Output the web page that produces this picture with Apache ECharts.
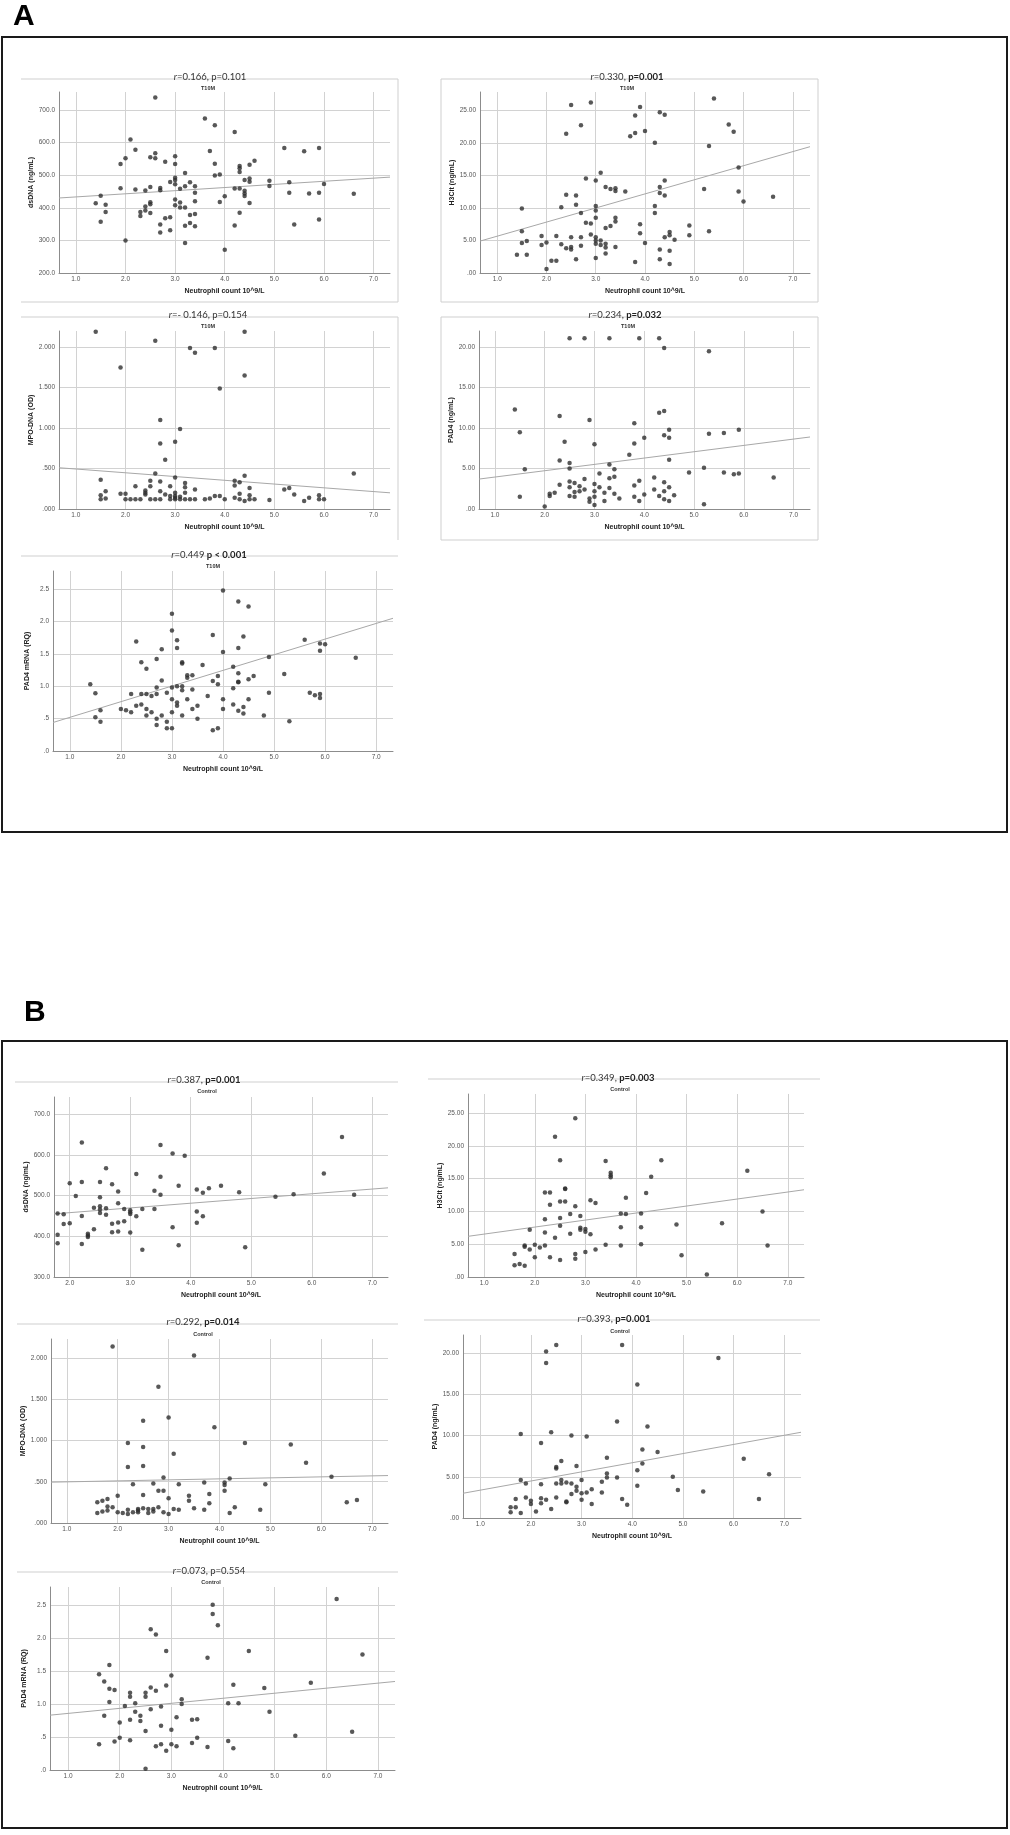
<!DOCTYPE html>
<html>
<head>
<meta charset="utf-8">
<title>Neutrophil count correlations</title>
<script src="https://cdn.jsdelivr.net/npm/echarts@6.0.0/dist/echarts.min.js"></script>
<style>
html, body { margin: 0; padding: 0; background: #fff; }
#main { width: 1010px; height: 1835px; }
</style>
</head>
<body>
<div id="main"></div>
<script>
// tick values
var xTicks = [1, 2, 3, 4, 5, 6, 7];
var xTicksB1 = [2, 3, 4, 5, 6, 7];
var dsdnaTicksA = [200, 300, 400, 500, 600, 700];
var dsdnaTicksB = [300, 400, 500, 600, 700];
var h3citTicks = [0, 5, 10, 15, 20, 25];
var mpoTicks = [0, 0.5, 1, 1.5, 2];
var pad4Ticks = [0, 5, 10, 15, 20];
var mrnaTicks = [0, 0.5, 1, 1.5, 2, 2.5];

// A: T10M
var a1Points = [
  [2.6,738],[3.6,674],[3.8,653],[4.2,632],[2.1,609],[2.2,578],[3.7,574],[5.2,583],[5.6,573],[5.9,583],
  [1.9,534],[2.0,552],[2.5,555],[2.6,567],[2.6,552],[2.8,541],[3.0,558],[3.0,534],[3.2,507],[3.8,535],
  [3.8,499],[3.9,502],[4.3,528],[4.3,521],[4.3,510],[4.5,532],[4.6,544],[1.9,460],[2.2,456],[2.4,453],
  [2.5,464],[2.7,461],[2.7,454],[2.9,479],[3.0,492],[3.0,485],[3.0,472],[3.1,458],[3.2,466],[3.3,478],
  [3.4,466],[3.4,446],[4.4,485],[4.5,490],[4.5,480],[4.2,459],[4.3,459],[4.4,452],[4.4,444],[4.4,436],
  [4.9,483],[4.9,467],[5.3,478],[5.3,446],[5.7,444],[5.9,446],[6.0,473],[6.6,443],[4.0,435],[3.9,418],
  [4.5,415],[1.4,414],[1.5,437],[1.6,409],[1.6,387],[1.5,357],[2.3,387],[2.3,375],[2.4,404],[2.4,392],
  [2.5,417],[2.5,411],[2.5,384],[3.0,425],[3.0,408],[3.1,416],[3.1,401],[3.2,401],[3.4,420],[3.4,381],
  [3.3,378],[2.9,371],[2.8,368],[2.7,349],[2.7,324],[2.9,331],[3.2,345],[3.3,353],[3.4,343],[4.3,385],
  [4.2,346],[5.4,349],[5.9,364],[2.0,300],[3.2,292],[4.0,271]
];
var a1Fit = [[0.66, 430], [7.33, 494]];

var a2Points = [
  [2.5,25.8],[2.9,26.2],[2.7,22.7],[2.4,21.4],[3.8,24.2],[3.9,25.5],[3.7,21.0],[3.8,21.5],[4.0,21.8],[4.3,24.7],
  [4.4,24.3],[4.2,20.0],[5.4,26.8],[5.3,19.5],[5.7,22.8],[5.8,21.7],[5.9,16.2],[5.9,12.5],[6.0,11.0],[6.6,11.7],
  [2.8,14.5],[3.0,14.2],[3.1,15.4],[2.4,12.0],[2.6,11.9],[2.6,10.5],[2.7,9.2],[2.3,10.1],[3.0,10.3],[3.0,9.6],
  [3.0,8.5],[3.2,13.2],[3.3,12.9],[3.4,13.0],[3.4,12.6],[3.6,12.5],[4.4,14.2],[4.3,13.2],[4.3,12.3],[4.4,11.9],
  [4.2,10.3],[4.2,9.2],[5.2,12.9],[1.5,9.9],[1.5,6.4],[1.5,4.6],[1.6,4.9],[1.4,2.8],[1.6,2.8],[1.9,5.7],
  [1.9,4.3],[2.0,4.7],[2.2,5.7],[2.3,4.4],[2.4,3.8],[2.5,5.5],[2.5,4.0],[2.5,3.6],[2.7,5.5],[2.7,4.2],
  [2.8,7.7],[2.9,7.6],[2.9,5.9],[3.0,5.5],[3.0,5.0],[3.0,4.5],[3.1,5.0],[3.1,4.3],[3.2,6.9],[3.3,7.2],
  [3.2,4.5],[3.2,3.9],[3.2,3.0],[3.4,8.5],[3.4,7.9],[3.4,4.0],[3.9,7.5],[3.9,6.1],[4.0,4.6],[4.5,6.3],
  [4.5,5.8],[4.4,5.5],[4.6,5.1],[4.9,7.3],[4.9,5.8],[5.3,6.4],[4.3,3.6],[4.5,3.4],[2.6,2.1],[3.0,2.3],
  [2.1,1.9],[2.2,1.9],[2.0,0.6],[3.8,1.7],[4.3,2.1],[4.5,1.4]
];
var a2Fit = [[0.65, 4.9], [7.35, 19.4]];

var a3Points = [
  [1.4,2.19],[2.6,2.08],[3.3,1.99],[3.4,1.93],[3.8,1.99],[4.4,2.19],[1.9,1.75],[4.4,1.65],[3.9,1.49],[2.7,1.10],
  [3.1,0.99],[2.7,0.81],[3.0,0.83],[2.8,0.61],[2.6,0.44],[3.0,0.39],[4.4,0.41],[6.6,0.44],[1.5,0.36],[2.5,0.35],
  [2.7,0.34],[3.2,0.32],[4.2,0.35],[4.3,0.33],[2.5,0.28],[2.2,0.28],[2.9,0.28],[3.2,0.27],[4.2,0.29],[2.4,0.23],
  [2.7,0.22],[3.4,0.24],[4.5,0.26],[5.2,0.24],[5.3,0.26],[1.6,0.22],[2.4,0.20],[2.4,0.18],[2.8,0.18],[3.0,0.20],
  [3.2,0.20],[1.5,0.17],[1.9,0.19],[2.0,0.19],[2.9,0.16],[3.0,0.16],[3.1,0.15],[3.8,0.16],[3.9,0.16],[4.3,0.19],
  [5.4,0.18],[4.2,0.14],[4.5,0.17],[5.9,0.17],[5.7,0.14],[1.5,0.12],[1.6,0.13],[2.0,0.12],[2.1,0.12],[2.2,0.12],
  [2.3,0.12],[2.5,0.12],[2.6,0.12],[2.7,0.12],[2.9,0.12],[3.0,0.12],[3.1,0.12],[3.2,0.12],[3.3,0.12],[3.4,0.12],
  [3.6,0.12],[3.7,0.13],[4.0,0.12],[4.3,0.12],[4.4,0.10],[4.5,0.12],[4.6,0.12],[4.9,0.11],[5.6,0.10],[5.9,0.12],
  [6.0,0.12],[3.0,0.14]
];
var a3Fit = [[0.66, 0.51], [7.33, 0.20]];

var a4Points = [
  [2.5,21.1],[2.8,21.1],[3.3,21.1],[3.9,21.1],[4.3,21.1],[4.4,19.9],[5.3,19.5],[1.4,12.3],[1.5,9.5],[2.3,11.5],
  [2.4,8.3],[2.9,11.0],[3.0,8.0],[3.8,10.6],[3.8,8.1],[4.0,8.8],[4.3,11.9],[4.4,12.1],[4.4,9.1],[4.5,9.8],
  [4.5,8.8],[5.3,9.3],[5.6,9.4],[5.9,9.8],[3.7,6.7],[4.5,6.1],[2.3,6.0],[2.5,5.7],[2.5,5.0],[3.3,5.5],
  [3.4,4.9],[1.6,4.9],[5.2,5.1],[1.5,1.5],[2.0,0.3],[2.1,1.9],[2.1,1.6],[2.2,2.0],[2.3,3.0],[2.5,3.4],
  [2.5,2.7],[2.5,1.6],[2.6,3.2],[2.6,2.1],[2.6,1.5],[2.7,2.8],[2.7,2.2],[2.8,3.7],[2.8,2.4],[2.9,1.3],
  [2.9,0.9],[3.0,3.1],[3.0,2.2],[3.0,1.5],[3.0,0.5],[3.1,4.4],[3.1,2.7],[3.2,2.0],[3.2,1.0],[3.3,3.8],
  [3.3,2.6],[3.4,4.0],[3.4,1.9],[3.5,1.3],[3.8,2.9],[3.8,1.5],[3.9,3.5],[3.9,1.0],[4.0,1.8],[4.2,3.9],
  [4.2,2.4],[4.3,1.6],[4.4,3.3],[4.4,2.2],[4.4,1.2],[4.5,2.7],[4.5,1.0],[4.6,1.7],[4.9,4.5],[5.2,0.6],
  [5.6,4.5],[5.8,4.3],[5.9,4.4],[6.6,3.9]
];
var a4Fit = [[0.68, 3.7], [7.33, 8.9]];

var a5Points = [
  [4.0,2.48],[4.3,2.31],[4.5,2.23],[3.0,2.12],[3.0,1.86],[2.3,1.69],[3.1,1.71],[3.8,1.79],[4.4,1.77],[3.1,1.59],
  [2.8,1.57],[4.3,1.59],[5.6,1.72],[4.0,1.53],[5.9,1.66],[5.9,1.55],[6.0,1.65],[4.9,1.45],[6.6,1.44],[2.4,1.37],
  [2.5,1.27],[3.2,1.37],[3.2,1.35],[3.6,1.33],[2.7,1.42],[4.2,1.30],[5.2,1.19],[3.3,1.17],[3.4,1.17],[3.3,1.13],
  [3.9,1.16],[4.3,1.20],[4.3,1.07],[4.3,1.06],[4.5,1.11],[4.6,1.16],[3.8,1.08],[3.9,1.03],[4.2,0.97],[2.8,1.09],
  [2.7,0.98],[3.0,0.98],[3.1,1.00],[3.2,1.00],[3.2,0.94],[3.4,0.95],[1.4,1.03],[1.5,0.89],[2.9,0.90],[4.9,0.90],
  [5.7,0.90],[5.9,0.88],[2.4,0.88],[2.5,0.88],[2.7,0.88],[2.2,0.88],[1.5,0.52],[1.6,0.45],[1.6,0.63],[2.0,0.65],
  [2.1,0.63],[2.2,0.60],[2.3,0.70],[2.4,0.72],[2.5,0.65],[2.5,0.55],[2.6,0.60],[2.6,0.85],[2.7,0.50],[2.7,0.40],
  [2.8,0.55],[2.9,0.45],[2.9,0.35],[3.0,0.35],[3.0,0.60],[3.0,0.80],[3.1,0.70],[3.1,0.75],[3.2,0.55],[3.3,0.80],
  [3.4,0.65],[3.5,0.70],[3.5,0.50],[3.7,0.85],[3.8,0.32],[3.9,0.35],[4.0,0.65],[4.0,0.80],[4.2,0.72],[4.3,0.62],
  [4.4,0.58],[4.4,0.68],[4.5,0.80],[4.8,0.55],[5.3,0.46],[5.8,0.86],[5.9,0.82]
];
var a5Fit = [[0.67, 0.44], [7.33, 2.05]];

// B: Control
var b1Points = [
  [2.2,630],[3.5,624],[3.7,603],[3.9,598],[6.5,644],[2.6,567],[3.1,553],[6.2,554],[2.0,530],[2.2,533],
  [2.5,533],[2.7,528],[3.5,546],[3.8,524],[2.8,510],[3.4,512],[3.5,502],[4.1,515],[4.2,507],[4.3,518],
  [4.5,524],[4.8,508],[5.4,497],[5.7,503],[6.7,502],[2.1,499],[2.5,496],[2.8,481],[1.8,456],[1.9,454],
  [2.2,450],[2.4,470],[2.5,474],[2.5,466],[2.5,457],[2.6,469],[2.6,453],[2.9,467],[3.0,464],[3.0,459],
  [3.0,455],[3.1,449],[3.2,467],[3.4,467],[4.1,461],[4.2,449],[1.9,430],[2.0,432],[2.7,431],[2.8,434],
  [2.9,437],[2.4,417],[2.7,410],[2.8,412],[3.0,409],[2.3,406],[2.3,402],[2.3,398],[1.8,404],[1.8,383],
  [2.2,381],[3.7,422],[4.1,433],[3.2,367],[3.8,378],[4.9,373]
];
var b1Fit = [[1.74, 455], [7.26, 519]];

var b2Points = [
  [2.8,24.2],[2.4,21.4],[2.5,17.8],[3.4,17.7],[4.5,17.8],[3.5,15.9],[3.5,15.5],[3.5,15.2],[4.3,15.3],[2.6,13.5],
  [2.6,13.4],[2.2,12.9],[2.3,12.9],[4.2,12.8],[3.8,12.1],[2.5,11.5],[2.6,11.5],[3.1,11.7],[3.2,11.3],[2.3,11.0],
  [2.8,10.8],[2.7,9.6],[3.7,9.7],[3.8,9.6],[4.1,9.7],[2.2,8.8],[2.5,9.0],[2.9,9.3],[1.9,7.2],[2.2,6.8],
  [2.5,7.8],[2.9,7.5],[2.9,7.2],[3.0,7.3],[3.0,6.9],[2.7,6.6],[3.1,6.5],[3.7,7.6],[4.1,7.6],[4.8,8.0],
  [2.4,6.0],[1.6,3.5],[1.8,4.8],[1.8,4.6],[1.9,4.2],[2.0,4.9],[2.1,4.5],[2.2,4.8],[3.4,4.9],[3.7,4.8],
  [4.1,5.0],[3.2,4.2],[3.0,3.8],[2.8,3.5],[2.8,2.8],[2.0,3.0],[2.3,3.0],[2.5,2.6],[1.6,1.8],[1.7,2.0],
  [1.8,1.7],[4.9,3.3],[5.4,0.4],[5.7,8.2],[6.2,16.2],[6.5,10.0],[6.6,4.8]
];
var b2Fit = [[0.68, 6.2], [7.32, 13.3]];

var b3Points = [
  [1.9,2.14],[3.5,2.03],[2.8,1.65],[2.5,1.24],[3.0,1.28],[3.9,1.16],[2.2,0.97],[2.5,0.92],[4.5,0.97],[5.4,0.95],
  [5.7,0.73],[2.2,0.68],[2.5,0.69],[3.1,0.84],[2.9,0.55],[4.2,0.54],[6.2,0.56],[2.3,0.47],[2.7,0.48],[3.2,0.47],
  [3.7,0.49],[4.1,0.49],[4.1,0.46],[4.9,0.47],[4.1,0.39],[2.8,0.39],[2.9,0.39],[2.0,0.33],[2.5,0.34],[3.4,0.33],
  [3.8,0.35],[3.0,0.30],[3.4,0.27],[1.6,0.25],[1.7,0.27],[1.8,0.29],[3.8,0.24],[6.5,0.25],[6.7,0.28],[1.8,0.20],
  [1.9,0.19],[2.2,0.16],[2.4,0.17],[2.5,0.18],[2.6,0.17],[2.7,0.17],[2.8,0.19],[3.1,0.17],[3.2,0.16],[3.5,0.18],
  [3.7,0.16],[4.3,0.19],[4.8,0.16],[1.6,0.12],[1.7,0.14],[1.8,0.15],[2.0,0.13],[2.1,0.12],[2.2,0.11],[2.3,0.13],
  [2.4,0.13],[2.6,0.12],[2.9,0.13],[3.0,0.11],[4.2,0.12],[2.7,0.14],[2.4,0.15]
];
var b3Fit = [[0.69, 0.495], [7.31, 0.575]];

var b4Points = [
  [2.5,21.0],[3.8,21.0],[2.3,20.2],[2.3,18.8],[5.7,19.4],[4.1,16.2],[3.7,11.7],[4.3,11.1],[1.8,10.2],[2.4,10.4],
  [2.8,10.0],[3.1,9.9],[2.2,9.1],[4.2,8.3],[4.5,8.0],[3.5,7.3],[6.2,7.2],[2.6,6.9],[2.5,6.2],[2.5,6.0],
  [2.9,6.3],[4.2,6.6],[4.1,5.8],[3.5,5.4],[3.5,4.9],[3.7,4.9],[4.8,5.0],[6.7,5.3],[1.8,4.6],[1.9,4.2],
  [2.2,4.1],[2.5,4.2],[2.6,4.6],[2.6,4.2],[2.7,4.3],[2.8,4.2],[3.0,4.6],[3.4,4.4],[4.1,3.9],[2.9,3.8],
  [2.9,3.3],[2.8,2.9],[3.0,3.0],[3.1,3.1],[3.2,3.5],[3.4,3.1],[4.9,3.4],[5.4,3.2],[1.7,2.3],[1.9,2.5],
  [2.0,2.1],[2.0,1.7],[2.2,2.4],[2.2,1.8],[2.3,2.2],[2.5,2.5],[2.7,2.0],[2.7,1.9],[3.0,2.2],[3.2,1.7],
  [3.8,2.3],[3.9,1.6],[6.5,2.3],[1.6,1.3],[1.7,1.3],[1.6,0.7],[1.8,0.6],[2.1,0.8],[2.4,1.1]
];
var b4Fit = [[0.66, 3.0], [7.33, 10.4]];

var b5Points = [
  [6.2,2.59],[3.8,2.50],[3.8,2.36],[3.9,2.19],[2.6,2.13],[2.7,2.05],[2.9,1.80],[4.5,1.80],[3.7,1.70],[1.8,1.59],
  [1.6,1.45],[3.0,1.43],[1.7,1.34],[5.7,1.32],[1.8,1.23],[1.9,1.21],[2.6,1.25],[2.7,1.20],[2.9,1.28],[4.2,1.29],
  [4.8,1.24],[2.2,1.17],[2.2,1.11],[2.5,1.17],[2.5,1.11],[1.8,1.03],[2.3,1.01],[2.1,0.97],[3.2,1.07],[3.2,1.00],
  [2.8,0.96],[4.1,1.01],[4.3,1.01],[4.9,0.88],[2.3,0.88],[2.4,0.82],[1.7,0.82],[2.6,0.92],[2.4,0.74],[2.2,0.76],
  [2.0,0.72],[3.1,0.80],[3.4,0.76],[3.5,0.77],[2.8,0.67],[3.0,0.61],[2.5,0.59],[6.5,0.58],[2.0,0.49],[1.9,0.43],
  [2.2,0.45],[3.5,0.49],[5.4,0.52],[1.6,0.39],[2.8,0.39],[2.7,0.36],[3.0,0.39],[3.1,0.36],[3.4,0.41],[3.7,0.35],
  [4.1,0.44],[4.2,0.33],[2.9,0.29],[2.5,0.02],[6.7,1.75]
];
var b5Fit = [[0.65, 0.83], [7.33, 1.34]];

var panels = [
  {pts: a1Points, fit: a1Fit, grid: [59, 92, 331, 181], x: [0.66, 7.33], y: [200, 755], xt: xTicks, yt: dsdnaTicksA, yd: 1,
   yname: 'dsDNA (ng/mL)', title: '{i|r}=0.166, p=0.101', tpos: [210, 77], sub: 'T10M', spos: [208, 88]},
  {pts: a2Points, fit: a2Fit, grid: [480, 92, 330, 181], x: [0.65, 7.35], y: [0, 27.8], xt: xTicks, yt: h3citTicks, yd: 2,
   yname: 'H3Cit (ng/mL)', title: '{i|r}=0.330, {b|p=0.001}', tpos: [627, 77], sub: 'T10M', spos: [627, 88]},
  {pts: a3Points, fit: a3Fit, grid: [59, 331, 331, 178], x: [0.66, 7.33], y: [0, 2.2], xt: xTicks, yt: mpoTicks, yd: 3,
   yname: 'MPO-DNA (OD)', title: '{i|r}=- 0.146, p=0.154', tpos: [208, 315], sub: 'T10M', spos: [208, 326]},
  {pts: a4Points, fit: a4Fit, grid: [479, 331, 331, 178], x: [0.68, 7.33], y: [0, 22], xt: xTicks, yt: pad4Ticks, yd: 2,
   yname: 'PAD4 (ng/mL)', title: '{i|r}=0.234, {b|p=0.032}', tpos: [625, 315], sub: 'T10M', spos: [628, 326]},
  {pts: a5Points, fit: a5Fit, grid: [53, 571, 340, 180], x: [0.67, 7.33], y: [0, 2.78], xt: xTicks, yt: mrnaTicks, yd: 1,
   yname: 'PAD4 mRNA (RQ)', title: '{i|r}=0.449 {b|p < 0.001}', tpos: [209, 555], sub: 'T10M', spos: [213, 566]},
  {pts: b1Points, fit: b1Fit, grid: [54, 1097, 334, 180], x: [1.74, 7.26], y: [300, 742], xt: xTicksB1, yt: dsdnaTicksB, yd: 1,
   yname: 'dsDNA (ng/mL)', title: '{i|r}=0.387, {b|p=0.001}', tpos: [204, 1080], sub: 'Control', spos: [207, 1091]},
  {pts: b2Points, fit: b2Fit, grid: [468, 1094, 336, 183], x: [0.68, 7.32], y: [0, 27.9], xt: xTicks, yt: h3citTicks, yd: 2,
   yname: 'H3Cit (ng/mL)', title: '{i|r}=0.349, {b|p=0.003}', tpos: [618, 1078], sub: 'Control', spos: [620, 1089]},
  {pts: b3Points, fit: b3Fit, grid: [51, 1339, 337, 184], x: [0.69, 7.31], y: [0, 2.23], xt: xTicks, yt: mpoTicks, yd: 3,
   yname: 'MPO-DNA (OD)', title: '{i|r}=0.292, {b|p=0.014}', tpos: [203, 1322], sub: 'Control', spos: [203, 1334]},
  {pts: b4Points, fit: b4Fit, grid: [463, 1335, 338, 183], x: [0.66, 7.33], y: [0, 22.2], xt: xTicks, yt: pad4Ticks, yd: 2,
   yname: 'PAD4 (ng/mL)', title: '{i|r}=0.393, {b|p=0.001}', tpos: [614, 1319], sub: 'Control', spos: [620, 1331]},
  {pts: b5Points, fit: b5Fit, grid: [50, 1587, 345, 183], x: [0.65, 7.33], y: [0, 2.77], xt: xTicks, yt: mrnaTicks, yd: 1,
   yname: 'PAD4 mRNA (RQ)', title: '{i|r}=0.073, p=0.554', tpos: [209, 1571], sub: 'Control', spos: [211, 1582]}
];

// SPSS style numbers: no leading zero
function spss(d) {
  return function (v) {
    return Number(v).toFixed(d).replace(/^0\./, '.');
  };
}

var grids = [], xAxes = [], yAxes = [], series = [];
var graphics = [];

var frameColor = '#cfcfcf';
function hline(x1, x2, y) {
  return {type: 'line', shape: {x1: x1, y1: y, x2: x2, y2: y}, style: {stroke: frameColor, lineWidth: 1}, silent: true};
}
function vline(x, y1, y2) {
  return {type: 'line', shape: {x1: x, y1: y1, x2: x, y2: y2}, style: {stroke: frameColor, lineWidth: 1}, silent: true};
}

// panel frames
graphics.push(hline(21, 398, 79), vline(398, 79, 302), hline(21, 398, 302));
graphics.push(hline(441, 818, 79), vline(441, 79, 302), vline(818, 79, 302), hline(441, 818, 302));
graphics.push(hline(21, 398, 317), vline(398, 317, 540));
graphics.push(hline(441, 818, 317), vline(441, 317, 540), vline(818, 317, 540), hline(441, 818, 540));
graphics.push(hline(21, 398, 556));
graphics.push(hline(15, 398, 1082), hline(428, 820, 1079));
graphics.push(hline(17, 398, 1324), hline(424, 820, 1320));
graphics.push(hline(17, 398, 1572));

// outer boxes
graphics.push({type: 'rect', shape: {x: 2, y: 37, width: 1005, height: 795},
  style: {fill: 'none', stroke: '#1a1a1a', lineWidth: 2}, silent: true});
graphics.push({type: 'rect', shape: {x: 2, y: 1041, width: 1005, height: 787},
  style: {fill: 'none', stroke: '#1a1a1a', lineWidth: 2}, silent: true});

graphics.push({type: 'text', x: 13, y: 2, style: {text: 'A', fontSize: 30, fontWeight: 'bold',
  fontFamily: 'Liberation Sans', fill: '#000'}});
graphics.push({type: 'text', x: 24, y: 998, style: {text: 'B', fontSize: 30, fontWeight: 'bold',
  fontFamily: 'Liberation Sans', fill: '#000'}});

panels.forEach(function (p, i) {
  grids.push({left: p.grid[0], top: p.grid[1], width: p.grid[2], height: p.grid[3], containLabel: false});
  xAxes.push({
    type: 'value', gridIndex: i, min: p.x[0], max: p.x[1],
    axisLine: {show: true, onZero: false, lineStyle: {color: '#8c8c8c'}},
    axisTick: {show: false, customValues: p.xt},
    axisLabel: {customValues: p.xt, formatter: spss(1), fontSize: 6.5, color: '#555',
      fontFamily: 'Liberation Sans', margin: 3},
    splitLine: {show: true, lineStyle: {color: '#d2d2d2'}},
    name: 'Neutrophil count 10^9/L', nameLocation: 'middle', nameGap: 15,
    nameTextStyle: {fontSize: 7, fontWeight: 'bold', color: '#222', fontFamily: 'Liberation Sans'}
  });
  yAxes.push({
    type: 'value', gridIndex: i, min: p.y[0], max: p.y[1],
    axisLine: {show: true, onZero: false, lineStyle: {color: '#8c8c8c'}},
    axisTick: {show: false, customValues: p.yt},
    axisLabel: {customValues: p.yt, formatter: spss(p.yd), fontSize: 6.5, color: '#555',
      fontFamily: 'Liberation Sans', margin: 4},
    splitLine: {show: true, lineStyle: {color: '#d2d2d2'}},
    name: p.yname, nameLocation: 'middle', nameGap: 22, nameRotate: 90,
    nameTextStyle: {fontSize: 7, fontWeight: 'bold', color: '#222', fontFamily: 'Liberation Sans'}
  });
  series.push({
    type: 'line', xAxisIndex: i, yAxisIndex: i, data: p.fit, showSymbol: false, silent: true,
    lineStyle: {color: '#a8a8a8', width: 1}, z: 2
  });
  series.push({
    type: 'scatter', xAxisIndex: i, yAxisIndex: i, data: p.pts, symbolSize: 4.5,
    itemStyle: {color: '#2e2e2e'}, z: 3
  });
  graphics.push({type: 'text', x: p.tpos[0], y: p.tpos[1], style: {
    text: p.title, fontSize: 9.5, fontFamily: 'Lato', fill: '#333', align: 'center', verticalAlign: 'middle',
    rich: {i: {fontStyle: 'italic', fontSize: 9.5, fontFamily: 'Lato', fill: '#333'},
           b: {fontWeight: 'bold', fontSize: 9.5, fontFamily: 'Lato', fill: '#222'}}
  }});
  graphics.push({type: 'text', x: p.spos[0], y: p.spos[1], style: {
    text: p.sub, fontSize: 5.5, fontWeight: 'bold', fontFamily: 'Liberation Sans', fill: '#333',
    align: 'center', verticalAlign: 'middle'
  }});
});

var myChart = echarts.init(document.getElementById('main'), null, {renderer: 'canvas'});
myChart.setOption({
  animation: false,
  backgroundColor: '#fff',
  grid: grids,
  xAxis: xAxes,
  yAxis: yAxes,
  series: series,
  graphic: graphics
});
</script>
</body>
</html>
